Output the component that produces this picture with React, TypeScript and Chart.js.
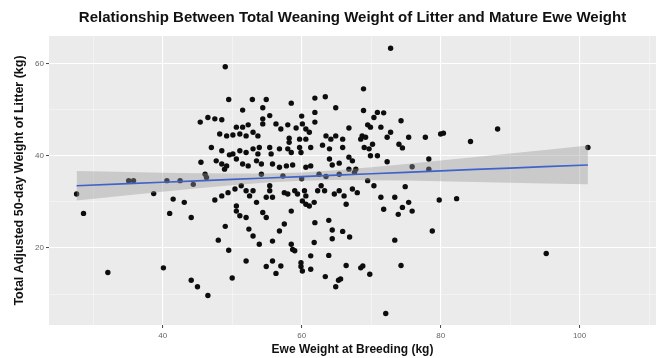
import React, { useEffect, useRef } from 'react';
import { Chart, registerables } from 'chart.js';

Chart.register(...registerables);

const titleText = 'Relationship Between Total Weaning Weight of Litter and Mature Ewe Weight';
const xTitle = 'Ewe Weight at Breeding (kg)';
const yTitle = 'Total Adjusted 50-day Weight of Litter (kg)';

// Ewe weight (kg) for each observation
const eweWeight = [
  49.0, 49.5, 52.9, 54.9, 58.5, 61.9, 51.5, 54.4, 55.4, 60.0, 61.9, 45.4, 46.5, 47.5, 48.5, 50.6,
  51.5, 52.3, 54.4, 54.4, 56.3, 57.0, 58.0, 59.2, 60.1, 60.6, 61.9, 61.1, 48.2, 49.2, 50.1, 51.1,
  52.0, 53.0, 53.7, 58.2, 58.2, 59.7, 60.6, 47.0, 48.5, 49.6, 50.1, 51.1, 52.0, 53.0, 53.9, 53.7,
  55.4, 55.6, 56.8, 58.0, 58.5, 59.7, 59.9, 61.3, 45.5, 47.7, 48.5, 49.2, 50.6, 51.5, 52.3, 53.5,
  54.2, 55.8, 56.8, 57.8, 58.7, 60.6, 61.3,
  63.4, 64.9, 68.9, 68.9, 70.9, 71.8, 70.4, 72.8, 74.3, 66.8, 69.5, 69.9, 71.4, 72.8, 72.3, 68.7,
  69.2, 68.5, 63.5, 64.2, 64.9, 65.9, 75.4, 77.8, 80.0, 80.4, 84.3, 88.2, 74.0, 74.5, 70.2, 69.7,
  69.0, 63.0, 64.0, 65.9, 66.8, 67.3, 69.9, 70.9, 72.3, 78.3, 64.0, 64.4, 65.4, 75.9, 78.3, 66.8,
  67.8, 101.2,
  46.1, 48.9, 54.2, 35.1, 35.8, 40.6, 42.5, 44.4, 27.6, 28.6, 38.7, 41.5, 43.1, 41.0, 44.1, 46.3,
  47.5, 48.5, 49.4, 50.4, 51.3, 52.0, 52.5, 53.0, 50.6, 50.6, 51.1, 52.0, 53.5, 55.4, 55.4, 54.9,
  55.8, 54.4, 54.9, 57.5, 58.0, 59.0, 59.4, 60.4, 60.6, 60.1, 60.6, 61.1, 61.8, 62.3, 58.5, 57.5,
  56.8, 49.0, 52.4, 53.0, 48.0, 49.5, 53.9, 55.8, 58.5, 58.7, 59.0, 61.8, 61.3, 52.0, 54.9, 55.8,
  57.0, 56.3, 59.9, 59.9, 60.1, 61.3, 32.1, 40.1, 44.1, 45.0, 46.5, 50.0,
  70.4, 74.9, 71.4, 73.4, 71.8, 73.9, 74.5, 75.4, 75.9, 79.8, 82.3, 66.4, 63.3, 64.7, 65.4, 66.1,
  67.3, 68.0, 62.8, 61.9, 63.9, 64.4, 65.9, 66.9, 64.4, 63.9, 66.4, 68.5, 68.8, 69.8, 63.4, 65.6,
  65.3, 64.9, 73.4, 74.3, 78.8, 95.2, 72.1,
  67.6, 69.5, 65.4, 62.5, 57.3, 60.0, 63.5,
];

// Total adjusted 50-day weight of litter (kg), same order
const litterWeight = [
  59.3, 52.2, 52.2, 52.2, 51.4, 52.5, 49.9, 50.4, 48.7, 48.6, 49.4, 47.3, 48.3, 48.0, 47.8, 46.2,
  46.2, 46.7, 48.0, 46.9, 46.9, 45.8, 46.7, 46.0, 46.9, 45.8, 47.3, 45.1, 44.7, 44.3, 44.5, 44.7,
  44.3, 45.1, 44.3, 43.8, 42.9, 43.6, 43.6, 41.8, 41.1, 40.2, 40.4, 41.1, 40.7, 41.5, 41.8, 40.4,
  41.8, 40.4, 41.5, 41.5, 40.7, 41.8, 40.7, 41.8, 38.6, 38.9, 38.2, 37.8, 39.3, 38.2, 37.8, 38.9,
  38.2, 38.2, 37.5, 37.8, 38.0, 37.5, 37.8,
  52.8, 50.4, 54.5, 49.8, 49.4, 49.3, 48.3, 63.3, 47.6, 46.0, 46.7, 46.2, 46.2, 45.1, 44.0, 44.3,
  44.0, 43.6, 44.3, 43.6, 44.3, 43.6, 44.0, 44.0, 44.7, 44.9, 43.1, 45.8, 42.5, 41.7, 42.5, 41.5,
  41.8, 42.3, 41.5, 41.8, 39.7, 38.9, 40.0, 40.0, 38.7, 39.3, 39.3, 38.0, 38.4, 37.6, 37.1, 37.1,
  37.1, 41.8,
  36.0, 37.1, 36.0, 34.6, 34.6, 34.6, 34.6, 33.8, 31.7, 27.5, 31.8, 30.6, 29.9, 27.5, 26.6, 35.3,
  30.4, 31.3, 32.0, 32.8, 33.5, 32.4, 31.3, 32.4, 29.1, 28.0, 27.0, 26.6, 29.9, 33.5, 32.4, 31.0,
  31.0, 27.7, 26.6, 32.0, 31.7, 32.4, 31.7, 32.4, 31.3, 30.2, 29.5, 29.1, 29.9, 32.4, 28.0, 25.2,
  23.7, 24.7, 24.1, 22.6, 21.7, 19.5, 20.8, 21.5, 20.8, 19.7, 19.4, 21.2, 18.3, 17.2, 16.0, 17.2,
  16.1, 14.5, 16.8, 16.0, 15.0, 15.4, 14.7, 15.7, 13.0, 11.6, 9.7, 13.5,
  33.5, 33.3, 31.0, 31.0, 28.4, 27.3, 28.8, 29.9, 28.0, 30.4, 30.7, 29.5, 32.4, 31.7, 32.4, 31.3,
  32.8, 32.0, 33.5, 25.5, 26.0, 23.9, 23.6, 22.4, 22.0, 18.4, 16.2, 15.7, 16.1, 14.3, 13.8, 13.3,
  13.0, 11.6, 21.7, 16.2, 23.7, 18.8, 5.8,
  36.4, 34.6, 36.0, 36.0, 35.6, 35.0, 35.5,
];

// Linear fit with 95% confidence band
const fitX = [27.6, 35, 40, 45, 50, 55, 60, 65, 70, 75, 80, 85, 90, 95, 101.2];
const fitY = [33.5, 33.96, 34.26, 34.57, 34.88, 35.18, 35.49, 35.8, 36.1, 36.41, 36.72, 37.03, 37.33, 37.64, 38.0];
const fitLower = [30.3, 31.45, 32.2, 32.93, 33.62, 34.2, 34.59, 34.73, 34.7, 34.61, 34.48, 34.33, 34.17, 34.01, 33.8];
const fitUpper = [36.7, 36.47, 36.32, 36.21, 36.13, 36.16, 36.39, 36.87, 37.5, 38.21, 38.96, 39.73, 40.49, 41.27, 42.2];

const xGrid = [30, 40, 50, 60, 70, 80, 90, 100, 110];
const xMajor = [40, 60, 80, 100];
const yGrid = [10, 20, 30, 40, 50, 60];
const yMajor = [20, 40, 60];

const FONT = "'Liberation Sans', Arial, Helvetica, sans-serif";

const panelBg = {
  id: 'panelBg',
  beforeDraw(chart: any) {
    const { ctx, chartArea: a } = chart;
    ctx.save();
    ctx.fillStyle = '#ebebeb';
    ctx.fillRect(a.left, a.top, a.right - a.left, a.bottom - a.top);
    ctx.restore();
  },
};

function gridOpts(major: number[]) {
  const isMajor = (c: any) => c.tick && major.includes(c.tick.value);
  return {
    color: (c: any) => (isMajor(c) ? '#ffffff' : 'rgba(255,255,255,0.75)'),
    lineWidth: (c: any) => (isMajor(c) ? 1.1 : 0.55),
    tickColor: (c: any) => (isMajor(c) ? '#444444' : 'rgba(0,0,0,0)'),
    tickWidth: 1,
    tickLength: 3,
    drawTicks: true,
  };
}

export default function App() {
  const ref = useRef<HTMLCanvasElement | null>(null);

  useEffect(() => {
    if (!ref.current) return;
    const points = eweWeight.map((x, i) => ({ x, y: litterWeight[i] }));
    const lower = fitX.map((x, i) => ({ x, y: fitLower[i] }));
    const upper = fitX.map((x, i) => ({ x, y: fitUpper[i] }));
    const line = fitX.map((x, i) => ({ x, y: fitY[i] }));

    const chart = new Chart(ref.current, {
      type: 'scatter',
      data: {
        datasets: [
          {
            data: points,
            backgroundColor: '#0d0d0d',
            borderWidth: 0,
            pointRadius: 2.7,
            order: 4,
          },
          {
            type: 'line',
            data: lower,
            borderWidth: 0,
            borderColor: 'rgba(0,0,0,0)',
            pointRadius: 0,
            fill: false,
            order: 3,
          },
          {
            type: 'line',
            data: upper,
            borderWidth: 0,
            borderColor: 'rgba(0,0,0,0)',
            backgroundColor: 'rgba(153,153,153,0.4)',
            pointRadius: 0,
            fill: '-1',
            order: 2,
          },
          {
            type: 'line',
            data: line,
            borderColor: '#3f63c9',
            borderWidth: 1.7,
            pointRadius: 0,
            fill: false,
            order: 1,
          },
        ] as any,
      },
      options: {
        responsive: false,
        animation: false,
        layout: { padding: { left: 0, right: 6, top: 0, bottom: 0 } },
        plugins: {
          legend: { display: false },
          tooltip: { enabled: false },
          title: {
            display: true,
            text: titleText,
            fullSize: false,
            color: '#111111',
            font: { family: FONT, size: 15, weight: 'bold' },
            padding: { top: 9, bottom: 9 },
          },
        },
        scales: {
          x: {
            type: 'linear',
            min: 23.63,
            max: 111,
            afterBuildTicks: (s: any) => {
              s.ticks = xGrid.map((v) => ({ value: v }));
            },
            afterFit: (s: any) => {
              s.height = 33;
            },
            ticks: {
              autoSkip: false,
              maxRotation: 0,
              padding: 3,
              color: '#666666',
              font: { family: FONT, size: 8 },
              callback: (v: any) => (xMajor.includes(Number(v)) ? String(v) : ''),
            },
            grid: gridOpts(xMajor) as any,
            border: { display: false },
            title: {
              display: true,
              text: xTitle,
              color: '#111111',
              font: { family: FONT, size: 12, weight: 'bold' },
              padding: { top: 0, bottom: 0.8 },
            },
          },
          y: {
            type: 'linear',
            min: 3.31,
            max: 65.96,
            afterBuildTicks: (s: any) => {
              s.ticks = yGrid.map((v) => ({ value: v }));
            },
            afterFit: (s: any) => {
              s.width = 49;
            },
            ticks: {
              autoSkip: false,
              padding: 2,
              color: '#666666',
              font: { family: FONT, size: 8 },
              callback: (v: any) => (yMajor.includes(Number(v)) ? String(v) : ''),
            },
            grid: gridOpts(yMajor) as any,
            border: { display: false },
            title: {
              display: true,
              text: yTitle,
              color: '#111111',
              font: { family: FONT, size: 12.5, weight: 'bold' },
              padding: { top: 12.5, bottom: 0 },
            },
          },
        },
      },
      plugins: [panelBg],
    });
    return () => chart.destroy();
  }, []);

  return (
    <div style={{ position: 'absolute', left: 0, top: 0, width: 662, height: 358 }}>
      <canvas ref={ref} width={662} height={358} />
    </div>
  );
}
